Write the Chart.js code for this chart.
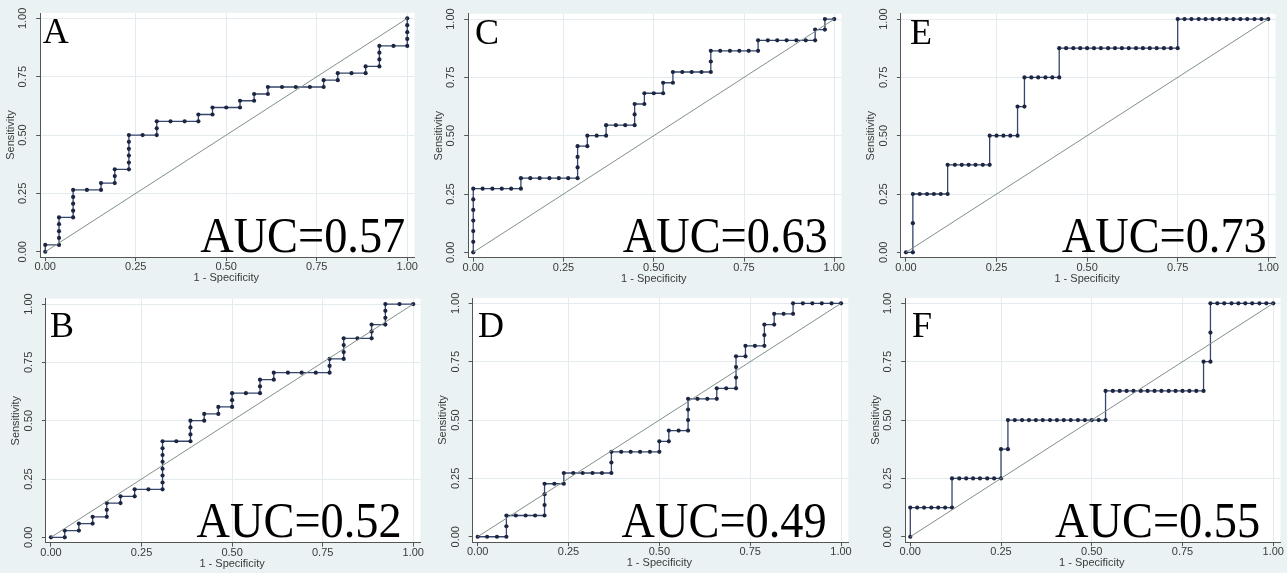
<!DOCTYPE html>
<html lang="en">
<head>
  <meta charset="UTF-8">
  <title>ROC curves A-F</title>
  <style>
    body { margin: 0; background: #eaf2f3; }
    #wrap { position: relative; width: 1287px; height: 573px; overflow: hidden; background: #eaf2f3; }
    #wrap canvas { position: absolute; }
  </style>
</head>
<body>
<div id="wrap"></div>

<script src="https://cdn.jsdelivr.net/npm/chart.js"></script>

<script>
  const tickValues = [0, 0.25, 0.5, 0.75, 1];
  const tickLabels = ['0.00', '0.25', '0.50', '0.75', '1.00'];
  const xTitle = '1 - Specificity';
  const yTitle = 'Sensitivity';
  const panelLetters = ['A', 'C', 'E', 'B', 'D', 'F'];
  const aucLabels = ['AUC=0.57', 'AUC=0.63', 'AUC=0.73', 'AUC=0.52', 'AUC=0.49', 'AUC=0.55'];
  const diagonal = [[0, 0], [1, 1]];

  // [1 - specificity, sensitivity] for every cutoff
  const rocA = [[0,0],[0,.029],[.038,.029],[.038,.059],[.038,.088],[.038,.118],[.038,.147],[.077,.147],[.077,.176],[.077,.206],[.077,.235],[.077,.265],[.115,.265],[.154,.265],[.154,.294],[.192,.294],[.192,.324],[.192,.353],[.231,.353],[.231,.382],[.231,.412],[.231,.441],[.231,.471],[.231,.5],[.269,.5],[.308,.5],[.308,.529],[.308,.559],[.346,.559],[.385,.559],[.423,.559],[.423,.588],[.462,.588],[.462,.618],[.5,.618],[.538,.618],[.538,.647],[.577,.647],[.577,.676],[.615,.676],[.615,.706],[.654,.706],[.692,.706],[.731,.706],[.769,.706],[.769,.735],[.808,.735],[.808,.765],[.846,.765],[.885,.765],[.885,.794],[.923,.794],[.923,.824],[.923,.853],[.923,.882],[.962,.882],[1,.882],[1,.912],[1,.941],[1,.971],[1,1]];

  const rocB = [[0,0],[.038,0],[.038,.029],[.077,.029],[.077,.059],[.115,.059],[.115,.088],[.154,.088],[.154,.118],[.154,.147],[.192,.147],[.192,.176],[.231,.176],[.231,.206],[.269,.206],[.308,.206],[.308,.235],[.308,.265],[.308,.294],[.308,.324],[.308,.353],[.308,.382],[.308,.412],[.346,.412],[.385,.412],[.385,.441],[.385,.471],[.385,.5],[.423,.5],[.423,.529],[.462,.529],[.462,.559],[.5,.559],[.5,.588],[.5,.618],[.538,.618],[.577,.618],[.577,.647],[.577,.676],[.615,.676],[.615,.706],[.654,.706],[.692,.706],[.731,.706],[.769,.706],[.769,.735],[.769,.765],[.808,.765],[.808,.794],[.808,.824],[.808,.853],[.846,.853],[.885,.853],[.885,.882],[.885,.912],[.923,.912],[.923,.941],[.923,.971],[.923,1],[.962,1],[1,1]];

  const rocC = [[0,0],[0,.045],[0,.091],[0,.136],[0,.182],[0,.227],[0,.273],[.026,.273],[.053,.273],[.079,.273],[.105,.273],[.132,.273],[.132,.318],[.158,.318],[.184,.318],[.211,.318],[.237,.318],[.263,.318],[.289,.318],[.289,.364],[.289,.409],[.289,.455],[.316,.455],[.316,.5],[.342,.5],[.368,.5],[.368,.545],[.395,.545],[.421,.545],[.447,.545],[.447,.591],[.447,.636],[.474,.636],[.474,.682],[.5,.682],[.526,.682],[.526,.727],[.553,.727],[.553,.773],[.579,.773],[.605,.773],[.632,.773],[.658,.773],[.658,.818],[.658,.864],[.684,.864],[.711,.864],[.737,.864],[.763,.864],[.789,.864],[.789,.909],[.816,.909],[.842,.909],[.868,.909],[.895,.909],[.921,.909],[.947,.909],[.947,.955],[.974,.955],[.974,1],[1,1]];

  const rocD = [[0,0],[.026,0],[.053,0],[.079,0],[.079,.045],[.079,.091],[.105,.091],[.132,.091],[.158,.091],[.184,.091],[.184,.136],[.184,.182],[.184,.227],[.211,.227],[.237,.227],[.237,.273],[.263,.273],[.289,.273],[.316,.273],[.342,.273],[.368,.273],[.368,.318],[.368,.364],[.395,.364],[.421,.364],[.447,.364],[.474,.364],[.5,.364],[.5,.409],[.526,.409],[.526,.455],[.553,.455],[.579,.455],[.579,.5],[.579,.545],[.579,.591],[.605,.591],[.632,.591],[.658,.591],[.658,.636],[.684,.636],[.711,.636],[.711,.682],[.711,.727],[.711,.773],[.737,.773],[.737,.818],[.763,.818],[.789,.818],[.789,.864],[.789,.909],[.816,.909],[.816,.955],[.842,.955],[.868,.955],[.868,1],[.895,1],[.921,1],[.947,1],[.974,1],[1,1]];

  const rocE = [[0,0],[.019,0],[.019,.125],[.019,.25],[.038,.25],[.058,.25],[.077,.25],[.096,.25],[.115,.25],[.115,.375],[.135,.375],[.154,.375],[.173,.375],[.192,.375],[.212,.375],[.231,.375],[.231,.5],[.25,.5],[.269,.5],[.288,.5],[.308,.5],[.308,.625],[.327,.625],[.327,.75],[.346,.75],[.365,.75],[.385,.75],[.404,.75],[.423,.75],[.423,.875],[.442,.875],[.462,.875],[.481,.875],[.5,.875],[.519,.875],[.538,.875],[.558,.875],[.577,.875],[.596,.875],[.615,.875],[.635,.875],[.654,.875],[.673,.875],[.692,.875],[.712,.875],[.731,.875],[.75,.875],[.75,1],[.769,1],[.788,1],[.808,1],[.827,1],[.846,1],[.865,1],[.885,1],[.904,1],[.923,1],[.942,1],[.962,1],[.981,1],[1,1]];

  const rocF = [[0,0],[0,.125],[.019,.125],[.038,.125],[.058,.125],[.077,.125],[.096,.125],[.115,.125],[.115,.25],[.135,.25],[.154,.25],[.173,.25],[.192,.25],[.212,.25],[.231,.25],[.25,.25],[.25,.375],[.269,.375],[.269,.5],[.288,.5],[.308,.5],[.327,.5],[.346,.5],[.365,.5],[.385,.5],[.404,.5],[.423,.5],[.442,.5],[.462,.5],[.481,.5],[.5,.5],[.519,.5],[.538,.5],[.538,.625],[.558,.625],[.577,.625],[.596,.625],[.615,.625],[.635,.625],[.654,.625],[.673,.625],[.692,.625],[.712,.625],[.731,.625],[.75,.625],[.769,.625],[.788,.625],[.808,.625],[.808,.75],[.827,.75],[.827,.875],[.827,1],[.846,1],[.865,1],[.885,1],[.904,1],[.923,1],[.942,1],[.962,1],[.981,1],[1,1]];

  const rocSets = [rocA, rocC, rocE, rocB, rocD, rocF];

  // canvas box [left, top, w, h] and plot area [left, top, right, bottom] inside it (px),
  // label anchors in data units
  const layout = [
    { box: [0, 0, 425, 292],   area: [40.2, 13.0, 414.5, 257.1], letterX: -0.007, letterY: 0.893, aucX: 0.428 },
    { box: [425, 0, 430, 292], area: [43.2, 13.7, 416.5, 257.7], letterX: 0.005,  letterY: 0.893, aucX: 0.414 },
    { box: [855, 0, 432, 292], area: [45.9, 13.7, 420.5, 257.7], letterX: 0.011,  letterY: 0.893, aucX: 0.430 },
    { box: [0, 285, 425, 290], area: [45.9, 13.7, 420.5, 257.7], letterX: -0.003, letterY: 0.857, aucX: 0.402 },
    { box: [425, 285, 430, 290], area: [47.6, 13.0, 423.3, 257.1], letterX: 0.001, letterY: 0.857, aucX: 0.396 },
    { box: [855, 285, 432, 290], area: [50.2, 13.0, 425.5, 257.1], letterX: 0.005, letterY: 0.857, aucX: 0.399 }
  ];

  const decor = {
    id: 'decor',
    beforeDraw(chart) {
      const { ctx, chartArea: a } = chart;
      ctx.save();
      ctx.fillStyle = '#ffffff';
      ctx.fillRect(a.left, a.top, a.right - a.left, a.bottom - a.top);
      ctx.restore();
    },
    afterDraw(chart, args, opts) {
      const { ctx, chartArea: a, scales: { x, y } } = chart;
      ctx.save();
      ctx.fillStyle = '#3a3a3a';
      ctx.font = '11px "Liberation Sans", Arial, sans-serif';
      ctx.textAlign = 'center';
      ctx.textBaseline = 'middle';
      tickValues.forEach((v, i) => {
        ctx.fillText(tickLabels[i], x.getPixelForValue(v), a.bottom + 10);
        ctx.save();
        ctx.translate(a.left - 17, y.getPixelForValue(v));
        ctx.rotate(-Math.PI / 2);
        ctx.fillText(tickLabels[i], 0, 0);
        ctx.restore();
      });
      ctx.fillText(xTitle, x.getPixelForValue(0.5), a.bottom + 21);
      ctx.save();
      ctx.translate(a.left - 29.5, y.getPixelForValue(0.5));
      ctx.rotate(-Math.PI / 2);
      ctx.fillText(yTitle, 0, 0);
      ctx.restore();

      // panel letter and AUC
      ctx.fillStyle = '#000000';
      ctx.textAlign = 'left';
      ctx.textBaseline = 'alphabetic';
      ctx.font = '36px "Liberation Serif", "Times New Roman", serif';
      ctx.fillText(opts.letter, x.getPixelForValue(opts.letterX), y.getPixelForValue(opts.letterY));
      ctx.font = '50px "Liberation Serif", "Times New Roman", serif';
      const w = ctx.measureText(opts.auc).width;
      ctx.translate(x.getPixelForValue(opts.aucX), y.getPixelForValue(0));
      ctx.scale(205 / w, 1);
      ctx.fillText(opts.auc, 0, 0);
      ctx.restore();
    }
  };

  const wrap = document.getElementById('wrap');

  layout.forEach((p, i) => {
    const [bx, by, bw, bh] = p.box;
    const [al, at, ar, ab] = p.area;
    const canvas = document.createElement('canvas');
    canvas.width = bw;
    canvas.height = bh;
    canvas.style.left = bx + 'px';
    canvas.style.top = by + 'px';
    canvas.style.width = bw + 'px';
    canvas.style.height = bh + 'px';
    wrap.appendChild(canvas);

    const gridColor = c => (c.tick && c.tick.value > 0 ? '#e4ebee' : 'rgba(0,0,0,0)');

    new Chart(canvas, {
      type: 'scatter',
      data: {
        datasets: [
          {
            data: diagonal.map(([x, y]) => ({ x, y })),
            showLine: true,
            borderColor: '#7f918a',
            borderWidth: 1,
            pointRadius: 0
          },
          {
            data: rocSets[i].map(([x, y]) => ({ x, y })),
            showLine: true,
            borderColor: '#34466b',
            borderWidth: 1.3,
            pointRadius: 2.1,
            pointBorderWidth: 0,
            pointBackgroundColor: '#1c2642'
          }
        ]
      },
      options: {
        responsive: false,
        animation: false,
        events: [],
        layout: { padding: { left: 0, top: at, right: bw - ar, bottom: 0 } },
        plugins: {
          legend: { display: false },
          tooltip: { enabled: false },
          decor: { letter: panelLetters[i], auc: aucLabels[i], letterX: p.letterX, letterY: p.letterY, aucX: p.aucX }
        },
        scales: {
          x: {
            type: 'linear',
            min: -0.014,
            max: 1.02,
            afterBuildTicks: s => { s.ticks = tickValues.map(v => ({ value: v })); },
            afterFit: s => { s.height = bh - ab; },
            ticks: { display: false },
            grid: { color: gridColor, tickColor: '#555555', tickLength: 4 },
            border: { color: '#555555', width: 1 }
          },
          y: {
            type: 'linear',
            min: -0.023,
            max: 1.023,
            afterBuildTicks: s => { s.ticks = tickValues.map(v => ({ value: v })); },
            afterFit: s => { s.width = al; },
            ticks: { display: false },
            grid: { color: gridColor, tickColor: '#555555', tickLength: 4 },
            border: { color: '#555555', width: 1 }
          }
        }
      },
      plugins: [decor]
    });
  });
</script>
</body>
</html>
